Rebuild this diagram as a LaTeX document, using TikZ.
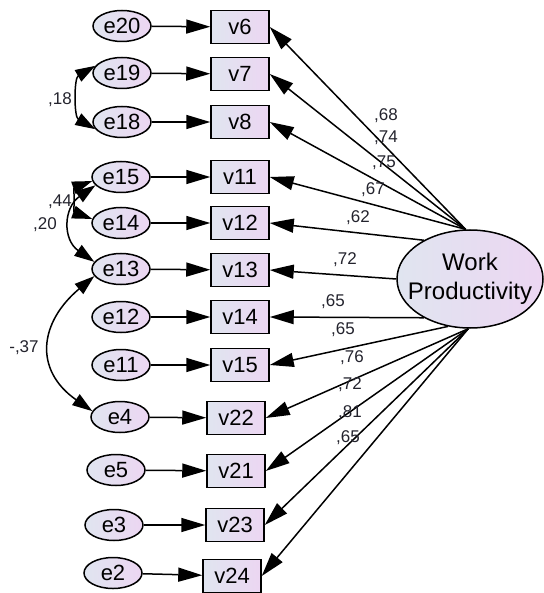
\documentclass[tikz,border=0pt]{standalone}
\usepackage{fontspec}
\setmainfont{Liberation Sans}
\usetikzlibrary{shapes.geometric,arrows.meta}
\definecolor{fillL}{RGB}{224,229,240}
\definecolor{fillR}{RGB}{236,214,242}
\definecolor{lbl}{RGB}{35,35,45}
\tikzset{
  errnode/.style={ellipse,draw,line width=1.5pt,minimum width=58pt,minimum height=31pt,inner sep=0pt,
    left color=fillL,right color=fillR,font=\fontsize{22}{24}\selectfont},
  obsnode/.style={rectangle,draw,line width=1.5pt,minimum width=58pt,minimum height=33pt,inner sep=0pt,
    left color=fillL,right color=fillR,font=\fontsize{22}{24}\selectfont},
  latnode/.style={ellipse,draw,line width=1.5pt,minimum width=146pt,minimum height=98pt,inner xsep=-12pt,inner ysep=0pt,
    left color=fillL,right color=fillR,align=center,font=\fontsize{24}{29}\selectfont},
  arr/.style={line width=1.5pt,-{Triangle[length=24pt,width=14pt]}},
  cov/.style={line width=1.5pt,{Triangle[length=20pt,width=13pt]}-{Triangle[length=20pt,width=13pt]}},
  lab/.style={font=\fontsize{17}{19}\selectfont,text=lbl,inner sep=0pt},
}
\begin{document}
\begin{tikzpicture}[x=1pt,y=-1pt]
\useasboundingbox (0,0) rectangle (543,593);
% error terms
\node[errnode] (e20) at (122,26) {e20};
\node[errnode] (e19) at (122,73) {e19};
\node[errnode] (e18) at (122,122) {e18};
\node[errnode] (e15) at (121,177) {e15};
\node[errnode] (e14) at (121,223) {e14};
\node[errnode] (e13) at (121,269) {e13};
\node[errnode] (e12) at (121,317) {e12};
\node[errnode] (e11) at (121,365) {e11};
\node[errnode] (e4) at (120,417) {e4};
\node[errnode] (e5) at (116,470) {e5};
\node[errnode] (e3) at (114,525) {e3};
\node[errnode] (e2) at (113,573) {e2};
% observed
\node[obsnode] (v6) at (240,27) {v6};
\node[obsnode] (v7) at (240,74) {v7};
\node[obsnode] (v8) at (240,122) {v8};
\node[obsnode] (v11) at (240,177) {v11};
\node[obsnode] (v12) at (240,223) {v12};
\node[obsnode] (v13) at (240,270) {v13};
\node[obsnode] (v14) at (240,317) {v14};
\node[obsnode] (v15) at (240,365) {v15};
\node[obsnode] (v22) at (236,418) {v22};
\node[obsnode] (v21) at (236,471) {v21};
\node[obsnode] (v23) at (235,525) {v23};
\node[obsnode] (v24) at (232,576) {v24};
% latent
\node[latnode] (wp) at (470,279) {Work\\Productivity};
% error arrows
\foreach \e/\v in {e20/v6,e19/v7,e18/v8,e15/v11,e14/v12,e13/v13,e12/v14,e11/v15,e4/v22,e5/v21,e3/v23,e2/v24}
  \draw[arr] (\e) -- (\v);
% loadings
\draw[arr] (wp.95) -- (v6.east);
\draw[arr] (wp.95) -- (v7.east);
\draw[arr] (wp.95) -- (v8.east);
\draw[arr] (wp.95) -- (v11.east);
\draw[arr] (wp.140) -- (v12.east);
\draw[arr] (wp.west) -- (v13.east);
\draw[arr] (wp.220) -- (v14.east);
\draw[arr] (wp.245) -- (v15.east);
\draw[arr] (wp.268) -- (v22.east);
\draw[arr] (wp.268) -- (v21.east);
\draw[arr] (wp.268) -- (v23.east);
\draw[arr] (wp.268) -- (v24.east);
% covariances
\draw[cov] (e19.165) to[out=210,in=150] (e18.195);
\draw[cov] (e15.188) to[out=200,in=160,looseness=1.3] (e14.172);
\draw[cov] (e15.198) to[out=215,in=145,looseness=1.3] (e13.165);
\draw[cov] (e13.195) to[out=220,in=145,looseness=1.36] (e4.168);
% covariance labels
\node[lab] (c1) at (60,100) {,18};
\node[lab] (c2) at (60,202) {,44};
\node[lab] (c3) at (45,225) {,20};
\node[lab] (c4) at (24,348) {-,37};
% loading labels
\node[lab] (l1) at (386,116) {,68};
\node[lab] (l2) at (386,138) {,74};
\node[lab] (l3) at (384,163) {,75};
\node[lab] (l4) at (373,190) {,67};
\node[lab] (l5) at (358,218) {,62};
\node[lab] (l6) at (345,260) {,72};
\node[lab] (l7) at (333,302) {,65};
\node[lab] (l8) at (343,330) {,65};
\node[lab] (l9) at (352,358) {,76};
\node[lab] (l10) at (350,385) {,72};
\node[lab] (l11) at (350,413) {,81};
\node[lab] (l12) at (348,438) {,65};
\end{tikzpicture}
\end{document}
